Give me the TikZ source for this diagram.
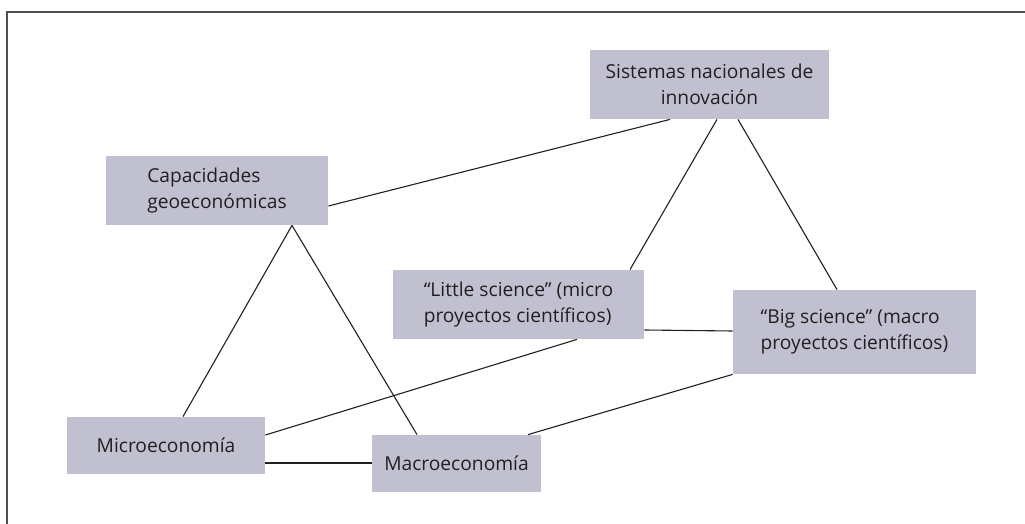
\documentclass[tikz,border=0pt]{standalone}
\usepackage{fontspec}
\setmainfont{Open Sans}
\usetikzlibrary{calc}
\definecolor{boxfill}{RGB}{193,192,208}
\definecolor{ink}{RGB}{35,31,32}
\definecolor{framec}{RGB}{80,80,80}
\tikzset{
  box/.style={rectangle, fill=boxfill, draw=none, inner sep=0pt, text=ink,
    font=\fontsize{9.6}{13}\selectfont, align=center},
  link/.style={draw=ink, line width=0.55pt},
  frameline/.style={draw=framec, line width=1.1pt}
}
\begin{document}
\begin{tikzpicture}[x=0.5pt, y=-0.5pt]
\useasboundingbox (0,0) rectangle (1025,524);
% frame (top and left)
\coordinate (ftr) at (1025,12);
\coordinate (ftl) at (7,12);
\coordinate (fbl) at (7,524);
\draw[frameline] (ftr) -- (ftl) -- (fbl);
% boxes
\node[box, minimum width=119.5pt, minimum height=34.5pt] (sis) at (709.5,84.5)
  {Sistemas nacionales de\\innovación};
\node[box, minimum width=111pt, minimum height=34.5pt, align=left] (cap) at (217,190.5)
  {Capacidades\\geoeconómicas};
\node[box, minimum width=125.5pt, minimum height=34.5pt, align=left] (lit) at (518.5,304.5)
  {“Little science” (micro\\proyectos científicos)};
\node[box, minimum width=121.5pt, minimum height=42pt, align=left] (big) at (854.5,332)
  {“Big science” (macro\\proyectos científicos)};
\node[box, minimum width=99pt, minimum height=28.5pt] (mic) at (166,445.5)
  {Microeconomía};
\node[box, minimum width=84.5pt, minimum height=28.5pt] (mac) at (456.5,463.5)
  {Macroeconomía};
% connectors
\draw[link] ($(cap.east)+(0,15.5)$) -- ($(sis.south)+(-39.5,0)$);
\draw[link] ($(sis.south)+(7.5,0)$) -- ($(lit.north)+(111.5,0)$);
\draw[link] ($(sis.south)+(28.5,0)$) -- ($(big.north)+(-17.5,0)$);
\draw[link] ($(cap.south)+(75,0)$) -- ($(mic.north)+(17,0)$);
\draw[link] ($(cap.south)+(75,0)$) -- ($(mac.north)+(-39.5,0)$);
\draw[link] ($(lit.east)+(0,25.5)$) -- ($(big.west)+(0,-1)$);
\draw[link] ($(lit.south)+(58.5,0)$) -- ($(mic.east)+(0,-10.5)$);
\draw[link] ($(mac.north)+(71.5,0)$) -- (big.south west);
\draw[link] ($(mic.east)+(0,17.5)$) -- ($(mac.west)+(0,-0.5)$);
\end{tikzpicture}
\end{document}
